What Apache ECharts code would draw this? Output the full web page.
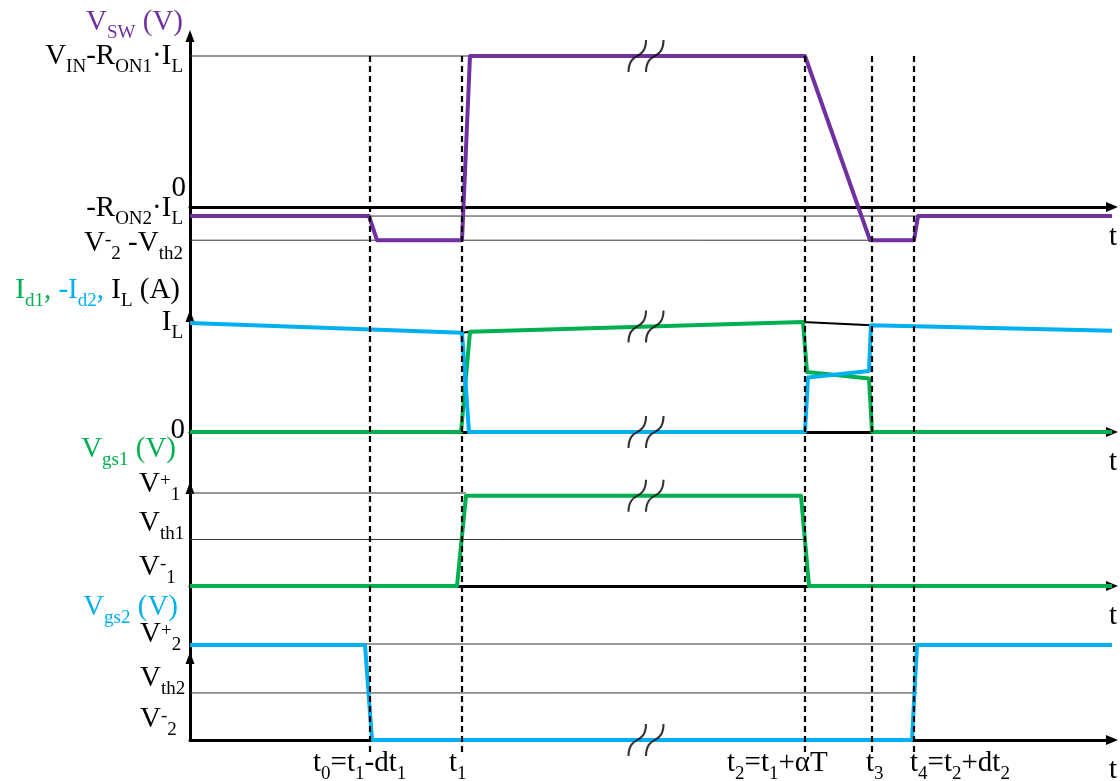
<!DOCTYPE html>
<html>
<head>
<meta charset="utf-8">
<script src="https://cdn.jsdelivr.net/npm/echarts@6/dist/echarts.min.js"></script>
<style>html,body{margin:0;padding:0;background:#fff}#c{width:1120px;height:781px}</style>
</head>
<body>
<div id="c"></div>
<script>
// ---------------- DATA (abstract time units / abstract level units) ----------------
const timeEnd = 92.2;
const breakTime = 45.6;
const markerTimes = [18.0, 27.2, 61.5, 68.2, 72.4];
const markerLabels = [
  '{n|t}{s|0}{n|=t}{s|1}{n|-dt}{s|1}',
  '{n|t}{s|1}',
  '{n|t}{s|2}{n|=t}{s|1}{n|+αT}',
  '{n|t}{s|3}',
  '{n|t}{s|4}{n|=t}{s|2}{n|+dt}{s|2}'
];

// Panel 1 : V_SW
const vswTime  = [0, 17.9, 18.7, 27.2, 28.0, 61.5, 68.0, 72.4, 72.8, 92.2];
const vswValue = [-0.6, -0.6, -2.2, -2.2, 10, 10, -2.2, -2.2, -0.6, -0.6];
const vswLevels = [10, 0, -0.6, -2.2];
const vswLevelNames = ['{n|V}{s|IN}{n|-R}{s|ON1}{n|·I}{s|L}', '{n|0}', '{n|-R}{s|ON2}{n|·I}{s|L}', '{n|V}{p|-}{s|2}{n| -V}{s|th2}'];
const vswGuideLevels = [10, -0.6, -2.2];
const vswGuideEnds = [28.0, 92.2, 68.0];

// Panel 2 : currents
const id1Time  = [0, 27.1, 28.0, 61.3, 61.7, 67.9, 68.2, 92.2];
const id1Value = [0, 0, 9.2, 10.1, 5.5, 4.9, 0, 0];
const id2Time  = [0, 27.2, 27.9, 61.5, 61.8, 67.9, 68.1, 92.2];
const id2Value = [10, 9.1, 0, 0, 5.0, 5.6, 9.8, 9.3];
const ilTime   = [0, 27.2, 28.0, 61.3, 68.1, 92.2];
const ilValue  = [10, 9.1, 9.2, 10.1, 9.8, 9.3];
const curLevels = [10, 0];
const curLevelNames = ['{n|I}{s|L}', '{n|0}'];

// Panel 3 : V_gs1
const vgs1Time  = [0, 26.7, 27.6, 61.1, 61.9, 92.2];
const vgs1Value = [0, 0, 9.7, 9.7, 0, 0];
const vgs1Levels = [10, 5.0, 0];
const vgs1LevelNames = ['{n|V}{p|+}{s|1}', '{n|V}{s|th1}', '{n|V}{p|-}{s|1}'];
const vgs1GuideLevels = [10, 5.0];
const vgs1GuideEnds = [27.6, 61.5];

// Panel 4 : V_gs2
const vgs2Time  = [0, 17.5, 18.2, 72.2, 72.7, 92.2];
const vgs2Value = [9.9, 9.9, 0, 0, 9.9, 9.9];
const vgs2Levels = [10, 4.9, 0];
const vgs2LevelNames = ['{n|V}{p|+}{s|2}', '{n|V}{s|th2}', '{n|V}{p|-}{s|2}'];
const vgs2GuideLevels = [10, 4.9];
const vgs2GuideEnds = [72.7, 72.7];

// break marks: [panel, level]
const breakPanels = [0, 1, 1, 2, 3];
const breakLevels = [10, 9.68, 0, 9.7, 0];

// titles
const titleTexts = [
  '{pn|V}{ps|SW}{pn| (V)}',
  '{gn|I}{gs|d1}{gn|, }{bn|-I}{bs|d2}{bn|, }{n|I}{s|L}{n| (A)}',
  '{gn|V}{gs|gs1}{gn| (V)}',
  '{bn|V}{bs|gs2}{bn| (V)}'
];

// ---------------- LAYOUT / STYLE ----------------
const PURPLE = '#7030A0', GREEN = '#00B050', BLUE = '#00B0F0';
const FONT = '"Liberation Serif", "Times New Roman", serif';
const gridBoxes = [[36, 280], [316, 172], [488, 170], [658, 82], [54, 698]];
const yRanges = [[-7.219, 11.325], [-5.138, 10.642], [-7.742, 10.538], [0, 8.542], [0, 1]];
const levelLayout = [
  [{x:183,a:'right',dy:0},{x:186,a:'right',dy:-19},{x:183,a:'right',dy:-8},{x:183,a:'right',dy:3}],
  [{x:183,a:'right',dy:-1},{x:185,a:'right',dy:-2}],
  [{x:139,a:'left',dy:-9},{x:139,a:'left',dy:-16},{x:139,a:'left',dy:-19}],
  [{x:140,a:'left',dy:-10},{x:140,a:'left',dy:-15},{x:140,a:'left',dy:-21}]
];
const markerDx = [-57, -13, -78, -6, -4];
const titleLayout = [{x:183, cy:22}, {x:180, cy:290}, {x:176, cy:449}, {x:178, cy:607}];

function buildRich() {
  const cols = {'': '#000', p: PURPLE, g: GREEN, b: BLUE};
  const r = {};
  Object.keys(cols).forEach(k => {
    r[k + 'n'] = {fill: cols[k], fontSize: 29, fontFamily: FONT, verticalAlign: 'top'};
    r[k + 's'] = {fill: cols[k], fontSize: 19, fontFamily: FONT, verticalAlign: 'top', padding: [16, 0, 0, 0]};
    r[k + 'p'] = {fill: cols[k], fontSize: 19, fontFamily: FONT, verticalAlign: 'top', padding: [2, 0, 0, 0]};
  });
  return r;
}
const RICH = buildRich();

function line(gi, xs, ys, color, width, z, extra) {
  return Object.assign({
    type: 'line', xAxisIndex: gi, yAxisIndex: gi,
    data: xs.map((x, i) => [x, ys[i]]),
    symbol: 'none', clip: false, silent: true, animation: false, z: z,
    lineStyle: {color: color, width: width, join: 'round'}
  }, extra || {});
}

const series = [];
function guides(gi, levels, ends) {
  levels.forEach((lv, i) => series.push(line(gi, [0, ends[i]], [lv, lv], '#333333', 1, 1)));
}
guides(0, vswGuideLevels, vswGuideEnds);
guides(2, vgs1GuideLevels, vgs1GuideEnds);
guides(3, vgs2GuideLevels, vgs2GuideEnds);
series.push(line(1, ilTime, ilValue, '#000', 2, 2));
series.push(line(0, vswTime, vswValue, PURPLE, 4, 3));
series.push(line(1, id1Time, id1Value, GREEN, 4, 3));
series.push(line(1, id2Time, id2Value, BLUE, 4, 4));
series.push(line(2, vgs1Time, vgs1Value, GREEN, 4, 3));
series.push(line(3, vgs2Time, vgs2Value, BLUE, 4, 3));
markerTimes.forEach(t => series.push(line(4, [t, t], [0, 1], '#000', 2, 6, {lineStyle: {color: '#000', width: 2.2, type: [6, 4]}})));
breakPanels.forEach((gi, i) => series.push({
  type: 'scatter', xAxisIndex: gi, yAxisIndex: gi, data: [[breakTime, breakLevels[i]]],
  symbol: 'path://M0,32 C0,21 5,18 8.5,16 C12,14 17,11 17,0 M17,32 C17,21 22,18 25.5,16 C29,14 34,11 34,0',
  symbolSize: [35, 32], silent: true, animation: false, z: 8, clip: false,
  itemStyle: {color: 'rgba(0,0,0,0)', borderColor: '#000', borderWidth: 2}
}));

const option = {
  backgroundColor: '#fff',
  animation: false,
  grid: gridBoxes.map(([t, h]) => ({left: 190, right: 8, top: t, height: h, containLabel: false, outerBoundsMode: 'none'})),
  xAxis: gridBoxes.map((_, i) => ({
    gridIndex: i, type: 'value', min: 0, max: timeEnd, show: i < 4,
    axisLine: {show: i < 4, onZero: true, symbol: ['none', 'triangle'], symbolSize: [10, 12], lineStyle: {color: '#000', width: 3}},
    axisTick: {show: false}, axisLabel: {show: false}, splitLine: {show: false}
  })),
  yAxis: gridBoxes.map((_, i) => ({
    gridIndex: i, type: 'value', min: yRanges[i][0], max: yRanges[i][1], show: i < 4,
    axisLine: {show: i < 4, onZero: false, symbol: ['none', 'triangle'], symbolSize: [9, 12], lineStyle: {color: '#000', width: 3}},
    axisTick: {show: false}, axisLabel: {show: false}, splitLine: {show: false}
  })),
  series: series
};

const chart = echarts.init(document.getElementById('c'));
chart.setOption(option);

const texts = [];
function addText(x, y, text, align) {
  texts.push({type: 'text', x: x, y: y, silent: true, z: 100,
    style: {text: text, rich: RICH, align: align, verticalAlign: 'top', fontSize: 29, fontFamily: FONT, fill: '#000'}});
}
const allLevels = [vswLevels, curLevels, vgs1Levels, vgs2Levels];
const allNames = [vswLevelNames, curLevelNames, vgs1LevelNames, vgs2LevelNames];
allLevels.forEach((levels, gi) => {
  levels.forEach((lv, j) => {
    const p = chart.convertToPixel({gridIndex: gi}, [0, lv]);
    const L = levelLayout[gi][j];
    addText(L.x, p[1] + L.dy - 14.5, allNames[gi][j], L.a);
  });
});
markerTimes.forEach((t, i) => {
  const p = chart.convertToPixel({gridIndex: 3}, [t, 0]);
  addText(p[0] + markerDx[i], p[1] + 8.7, markerLabels[i], 'left');
});
for (let gi = 0; gi < 4; gi++) {
  const p = chart.convertToPixel({gridIndex: gi}, [timeEnd, 0]);
  addText(p[0] + 1, p[1] + 15.5, '{n|t}', 'center');
}
titleTexts.forEach((t, i) => addText(titleLayout[i].x, titleLayout[i].cy - 14.5, t, 'right'));
chart.setOption({graphic: texts});
</script>
</body>
</html>
